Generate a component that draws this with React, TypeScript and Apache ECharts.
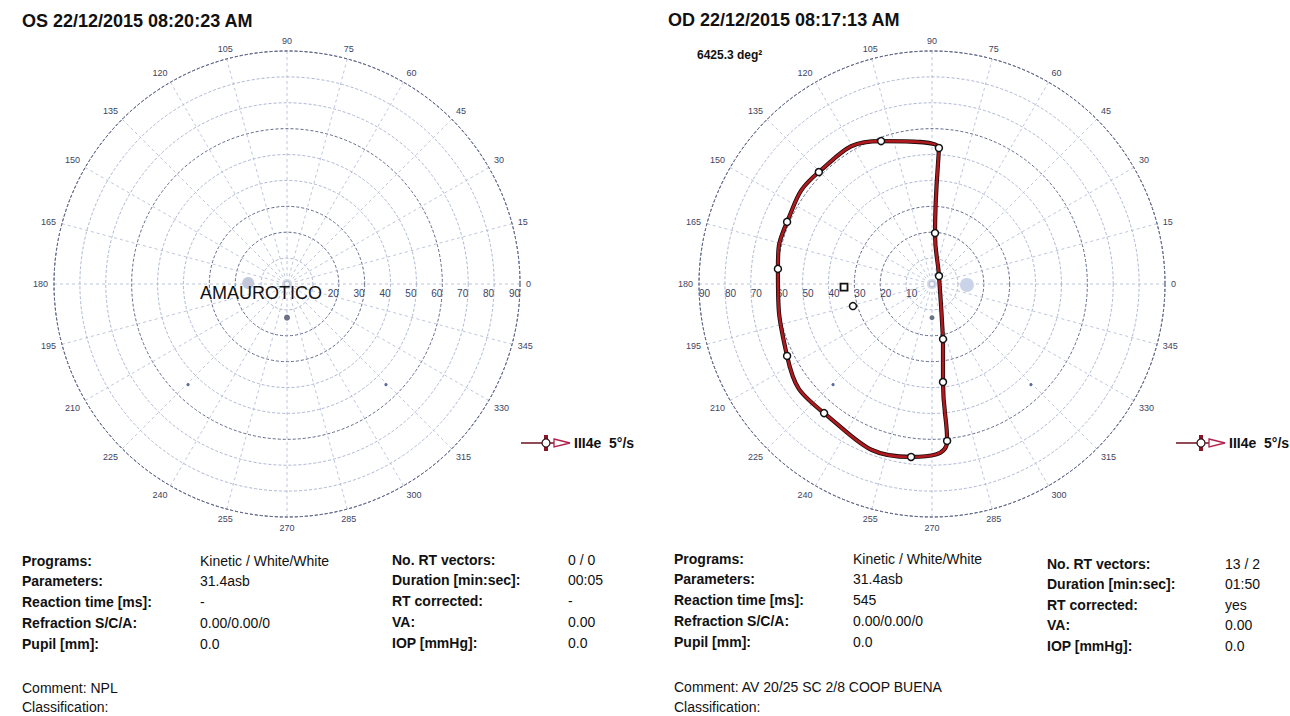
import React, { useEffect, useRef } from "react";
import * as echarts from "echarts";

// ---- data ----
const osTitle = "OS 22/12/2015 08:20:23 AM";
const odTitle = "OD 22/12/2015 08:17:13 AM";
const odArea = "6425.3 deg²";
const osResult = "AMAUROTICO";
const stimulusName = "III4e  5°/s";

// OD kinetic isopter vectors (eccentricity in degrees, meridian in degrees)
const odVectorEcc = [21.7, 4.1, 19.7, 52.6, 58.6, 61.5, 60.9, 59.8, 62.5, 65.0, 67.3, 60.9, 38.1];
const odVectorAngle = [281.3, 48.8, 86.6, 87.1, 109.6, 135.3, 156.8, 174.4, 206.4, 230.1, 263.1, 275.5, 276.4];
// OD isolated responses
const odSquareEcc = [34.0];
const odSquareAngle = [182];
const odSpotEcc = [31.7];
const odSpotAngle = [195.6];
// blind spots
const osBlindEcc = [15];
const osBlindAngle = [178.5];
const odBlindEcc = [13.5];
const odBlindAngle = [358.5];
// fixation / reference dots
const fixDotEcc = [13];
const fixDotAngle = [270];
const refDotEcc = [54.5, 54.5];
const refDotAngle = [225.5, 314.5];

// info tables
const labelsA = ["Programs:", "Parameters:", "Reaction time [ms]:", "Refraction S/C/A:", "Pupil [mm]:"];
const labelsB = ["No. RT vectors:", "Duration [min:sec]:", "RT corrected:", "VA:", "IOP [mmHg]:"];
const osValuesA = ["Kinetic / White/White", "31.4asb", "-", "0.00/0.00/0", "0.0"];
const osValuesB = ["0 / 0", "00:05", "-", "0.00", "0.0"];
const odValuesA = ["Kinetic / White/White", "31.4asb", "545", "0.00/0.00/0", "0.0"];
const odValuesB = ["13 / 2", "01:50", "yes", "0.00", "0.0"];
const osComment = "Comment: NPL";
const odComment = "Comment: AV 20/25 SC 2/8 COOP BUENA";
const classification = "Classification:";

const FONT = "'Liberation Sans', Arial, sans-serif";
const GRID_LIGHT = "#adb7d2";
const GRID_DARK = "#62698a";
const LABEL_COL = "#3d4463";

function zip(r: number[], a: number[]) {
  return r.map((v, i) => [v, a[i]]);
}

function angleAxisFor(polarIndex: number) {
  return {
    polarIndex,
    type: "value",
    min: 0,
    max: 360,
    interval: 15,
    startAngle: 0,
    clockwise: false,
    axisLine: { show: true, lineStyle: { color: GRID_DARK, width: 1, type: [3, 2] } },
    axisTick: { show: false },
    axisLabel: {
      show: true,
      margin: 6,
      fontSize: 9,
      color: LABEL_COL,
      fontFamily: FONT,
      formatter: (v: number) => (v >= 360 ? "" : String(v)),
    },
    splitLine: { show: true, lineStyle: { color: GRID_LIGHT, width: 0.8, type: [3, 3] } },
  };
}

function radiusAxisFor(polarIndex: number, showLabels: boolean) {
  return {
    polarIndex,
    type: "value",
    min: 0,
    max: 90,
    interval: 10,
    axisLine: { show: false },
    axisTick: { show: false },
    axisLabel: {
      show: showLabels,
      fontSize: 10,
      color: LABEL_COL,
      fontFamily: FONT,
      margin: -4,
      align: "right",
      verticalAlign: "top",
      formatter: (v: number) => (v === 0 || v === 10 ? "" : String(v)),
    },
    splitLine: {
      show: true,
      lineStyle: {
        color: [GRID_LIGHT, GRID_LIGHT, GRID_DARK, GRID_DARK, GRID_LIGHT, GRID_LIGHT, GRID_DARK, GRID_LIGHT, GRID_LIGHT, GRID_DARK],
        width: 1,
        type: [3, 2],
      },
    },
  };
}

function legendGroup(x: number, y: number) {
  return {
    type: "group",
    x,
    y,
    children: [
      { type: "line", shape: { x1: 0, y1: 0, x2: 21, y2: 0 }, style: { stroke: "#6e1020", lineWidth: 1.5 } },
      { type: "rect", shape: { x: 23, y: -8, width: 4, height: 4 }, style: { fill: "#8c1428" } },
      { type: "rect", shape: { x: 23, y: 4, width: 4, height: 4 }, style: { fill: "#8c1428" } },
      { type: "circle", shape: { cx: 25, cy: 0, r: 4 }, style: { fill: "#fff", stroke: "#3a1018", lineWidth: 1.3 } },
      { type: "line", shape: { x1: 29, y1: 0, x2: 33, y2: 0 }, style: { stroke: "#6e1020", lineWidth: 1.5 } },
      { type: "polygon", shape: { points: [[33, -4], [49, 0], [33, 4]] }, style: { fill: "#fff", stroke: "#b0204a", lineWidth: 1.3 } },
      {
        type: "text",
        x: 53,
        y: 0,
        style: { text: stimulusName, fontSize: 14, fontWeight: "bold", fontFamily: FONT, fill: "#111", verticalAlign: "middle" },
      },
    ],
  };
}

function txt(text: string, x: number, y: number, size: number, bold: boolean) {
  return {
    type: "text",
    x,
    y,
    style: { text, fontSize: size, fontWeight: bold ? "bold" : "normal", fontFamily: FONT, fill: "#111", verticalAlign: "middle" },
  };
}

function infoBlock(
  x0: number,
  x1: number,
  x2: number,
  x3: number,
  rowsA: number[],
  rowsB: number[],
  valsA: string[],
  valsB: string[]
) {
  const out: any[] = [];
  labelsA.forEach((l, i) => {
    out.push(txt(l, x0, rowsA[i], 14, true));
    out.push(txt(valsA[i], x1, rowsA[i], 14, false));
  });
  labelsB.forEach((l, i) => {
    out.push(txt(l, x2, rowsB[i], 14, true));
    out.push(txt(valsB[i], x3, rowsB[i], 14, false));
  });
  return out;
}

export default function App() {
  const ref = useRef<HTMLDivElement>(null);
  useEffect(() => {
    if (!ref.current) return;
    const chart = echarts.init(ref.current, null, { renderer: "svg" });

    const isopter = zip(odVectorEcc, odVectorAngle);
    const isopterClosed = [...isopter, isopter[0]];

    const dotStyle = (color: string) => ({ color, opacity: 1 });

    const option: any = {
      animation: false,
      backgroundColor: "#fff",
      textStyle: { fontFamily: FONT },
      polar: [
        { center: [287, 284], radius: 233 },
        { center: [932, 284], radius: 233 },
        { center: [932, 284], radius: 233 },
      ],
      angleAxis: [
        angleAxisFor(0),
        angleAxisFor(1),
        {
          polarIndex: 2,
          type: "value",
          min: 0,
          max: 360,
          startAngle: 180,
          clockwise: false,
          axisLine: { show: false },
          axisTick: { show: false },
          axisLabel: { show: false },
          splitLine: { show: false },
        },
      ],
      radiusAxis: [
        radiusAxisFor(0, true),
        radiusAxisFor(1, false),
        {
          polarIndex: 2,
          type: "value",
          min: 0,
          max: 90,
          interval: 10,
          axisLine: { show: false },
          axisTick: { show: false },
          splitLine: { show: false },
          axisLabel: {
            show: true,
            fontSize: 10,
            color: LABEL_COL,
            fontFamily: FONT,
            margin: 4,
            align: "left",
            verticalAlign: "top",
            formatter: (v: number) => (v === 0 ? "" : String(v)),
          },
        },
      ],
      series: [
        // OS
        {
          type: "scatter",
          coordinateSystem: "polar",
          polarIndex: 0,
          symbolSize: 12,
          itemStyle: dotStyle("#c3c7da"),
          data: zip(osBlindEcc, osBlindAngle),
        },
        {
          type: "scatter",
          coordinateSystem: "polar",
          polarIndex: 0,
          symbolSize: 6,
          itemStyle: dotStyle("#6b7086"),
          data: zip(fixDotEcc, fixDotAngle),
        },
        {
          type: "scatter",
          coordinateSystem: "polar",
          polarIndex: 0,
          symbolSize: 3,
          itemStyle: dotStyle("#5a6aa0"),
          data: zip(refDotEcc, refDotAngle),
        },
        // OD
        {
          type: "scatter",
          coordinateSystem: "polar",
          polarIndex: 1,
          symbolSize: 14,
          itemStyle: dotStyle("#c9d4e8"),
          data: zip(odBlindEcc, odBlindAngle),
        },
        {
          type: "scatter",
          coordinateSystem: "polar",
          polarIndex: 1,
          symbolSize: 5,
          itemStyle: dotStyle("#6b7086"),
          data: zip(fixDotEcc, fixDotAngle),
        },
        {
          type: "scatter",
          coordinateSystem: "polar",
          polarIndex: 1,
          symbolSize: 3,
          itemStyle: dotStyle("#5a6aa0"),
          data: zip(refDotEcc, refDotAngle),
        },
        {
          type: "line",
          coordinateSystem: "polar",
          polarIndex: 1,
          smooth: 0.5,
          showSymbol: false,
          lineStyle: { color: "#1a0a0a", width: 4.2 },
          data: isopterClosed,
          z: 3,
        },
        {
          type: "line",
          coordinateSystem: "polar",
          polarIndex: 1,
          smooth: 0.5,
          showSymbol: false,
          lineStyle: { color: "#b01a1e", width: 2.6 },
          data: isopterClosed,
          z: 4,
        },
        {
          type: "scatter",
          coordinateSystem: "polar",
          polarIndex: 1,
          symbol: "circle",
          symbolSize: 7,
          itemStyle: { color: "#fff", borderColor: "#111", borderWidth: 1.5, opacity: 1 },
          data: isopter,
          z: 5,
        },
        {
          type: "scatter",
          coordinateSystem: "polar",
          polarIndex: 1,
          symbol: "rect",
          symbolSize: 7,
          itemStyle: { color: "#fff", borderColor: "#111", borderWidth: 1.8, opacity: 1 },
          data: zip(odSquareEcc, odSquareAngle),
          z: 5,
        },
        {
          type: "scatter",
          coordinateSystem: "polar",
          polarIndex: 1,
          symbol: "circle",
          symbolSize: 7,
          itemStyle: { color: "#fff", borderColor: "#111", borderWidth: 1.5, opacity: 1 },
          data: zip(odSpotEcc, odSpotAngle),
          z: 5,
        },
      ],
      graphic: [
        txt(osTitle, 22, 21, 18, true),
        txt(odTitle, 668, 20, 18, true),
        txt(odArea, 697, 55, 12, true),
        { ...txt(osResult, 200, 293, 18, false), z: 100 },
        legendGroup(521, 443),
        legendGroup(1176, 443),
        ...infoBlock(22, 200, 392, 568, [561, 581, 602, 623, 644], [560, 580, 601, 622, 643], osValuesA, osValuesB),
        ...infoBlock(674, 853, 1047, 1225, [559, 579, 600, 621, 642], [564, 584, 605, 625, 646], odValuesA, odValuesB),
        txt(osComment, 22, 688, 14, false),
        txt(classification, 22, 707, 14, false),
        txt(odComment, 674, 687, 14, false),
        txt(classification, 674, 707, 14, false),
      ],
    };
    chart.setOption(option);
    return () => chart.dispose();
  }, []);
  return (
    <div
      ref={ref}
      style={{ position: "absolute", left: 0, top: 0, width: 1290, height: 716, background: "#fff" }}
    />
  );
}
